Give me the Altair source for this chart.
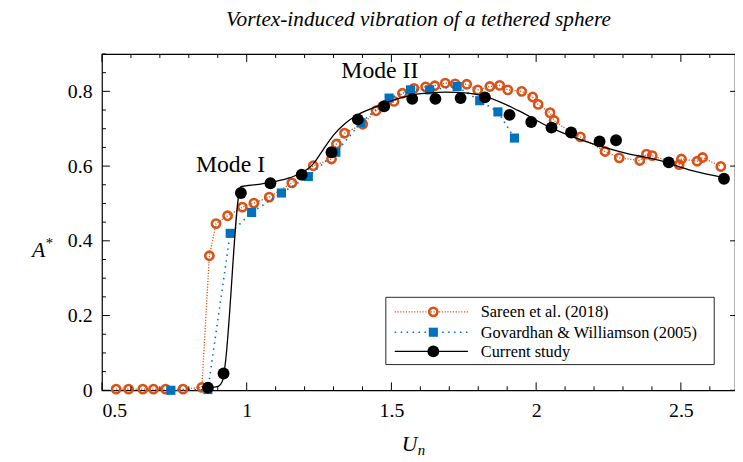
import altair as alt
import pandas as pd

# ---------------- data ----------------
sareen_x = [0.549, 0.592, 0.641, 0.678, 0.720, 0.780, 0.845, 0.871, 0.894, 0.934,
            0.985, 1.025, 1.078, 1.156, 1.230, 1.293, 1.310, 1.338, 1.401, 1.447,
            1.470, 1.509, 1.538, 1.578, 1.618, 1.650, 1.686, 1.720, 1.760, 1.798,
            1.840, 1.874, 1.902, 1.950, 1.988, 2.007, 2.048, 2.062, 2.119, 2.153,
            2.238, 2.287, 2.358, 2.381, 2.401, 2.494, 2.502, 2.556, 2.575, 2.638]
sareen_y = [0.003, 0.003, 0.003, 0.003, 0.003, 0.003, 0.008, 0.360, 0.446, 0.467,
            0.490, 0.501, 0.517, 0.555, 0.601, 0.619, 0.659, 0.688, 0.712, 0.748,
            0.760, 0.773, 0.795, 0.808, 0.812, 0.815, 0.822, 0.820, 0.819, 0.804,
            0.813, 0.816, 0.804, 0.800, 0.785, 0.765, 0.743, 0.722, 0.690, 0.678,
            0.639, 0.622, 0.615, 0.632, 0.628, 0.604, 0.619, 0.613, 0.623, 0.599]

gw_x = [0.738, 0.866, 0.943, 1.017, 1.120, 1.213, 1.308, 1.395, 1.492, 1.566,
        1.632, 1.727, 1.805, 1.868, 1.925]
gw_y = [0.000, 0.002, 0.420, 0.476, 0.528, 0.572, 0.637, 0.716, 0.782, 0.804,
        0.804, 0.813, 0.775, 0.745, 0.675]

cur_x = [0.866, 0.920, 0.980, 1.082, 1.190, 1.293, 1.384, 1.475, 1.572, 1.652,
         1.739, 1.823, 1.908, 1.983, 2.053, 2.121, 2.219, 2.276, 2.458, 2.649]
cur_y = [0.007, 0.045, 0.528, 0.554, 0.577, 0.637, 0.725, 0.760, 0.780, 0.780,
         0.782, 0.784, 0.737, 0.718, 0.703, 0.690, 0.666, 0.669, 0.610, 0.566]

fit_x = [0.866, 0.895, 0.910, 0.918, 0.925, 0.980, 1.040, 1.100, 1.150, 1.190,
         1.230, 1.265, 1.300, 1.340, 1.385, 1.447, 1.526, 1.594, 1.686, 1.766,
         1.834, 1.937, 2.039, 2.163, 2.312, 2.426, 2.539, 2.650]
fit_y = [0.007, 0.009, 0.016, 0.030, 0.065, 0.545, 0.551, 0.559, 0.569, 0.582,
         0.606, 0.645, 0.683, 0.714, 0.738, 0.759, 0.781, 0.793, 0.798, 0.795,
         0.784, 0.749, 0.707, 0.668, 0.634, 0.615, 0.588, 0.569]

x_labels = [0.5, 1.0, 1.5, 2.0, 2.5]
y_labels = [0.0, 0.2, 0.4, 0.6, 0.8]
x_ticks = [round(0.5 + 0.1 * i, 2) for i in range(22)]
y_ticks = [round(0.05 * i, 2) for i in range(19)]

mode_text = ["Mode I", "Mode II"]
mode_x = [0.944, 1.460]
mode_y = [0.604, 0.853]

legend_labels = ["Sareen et al. (2018)", "Govardhan & Williamson (2005)", "Current study"]
TITLE = "Vortex-induced vibration of a tethered sphere"

# ---------------- styling ----------------
ORANGE = "#D95319"
BLUE = "#0072BD"
BLACK = "#000000"
SERIF = "Liberation Serif, Times New Roman, serif"
W, H = 640, 340

xs = alt.Scale(domain=[0.5, 2.687], nice=False, zero=False)
ys = alt.Scale(domain=[0.0, 0.9], nice=False, zero=False)

x_axis = alt.Axis(values=x_labels, format="~g", title=None, ticks=False, tickSize=0,
                  domain=False, grid=False, labelPadding=11, labelFont=SERIF,
                  labelFontSize=20, labelColor="black")
y_axis = alt.Axis(values=y_labels, format="~g", title=None, ticks=False, tickSize=0,
                  domain=False, grid=False, labelPadding=10, labelFont=SERIF,
                  labelFontSize=20, labelColor="black")


def X(field):
    return alt.X(field, type="quantitative", scale=xs, axis=x_axis)


def Y(field):
    return alt.Y(field, type="quantitative", scale=ys, axis=y_axis)


sareen = pd.DataFrame({"x": sareen_x, "y": sareen_y, "o": range(len(sareen_x))})
gw = pd.DataFrame({"x": gw_x, "y": gw_y, "o": range(len(gw_x))})
cur = pd.DataFrame({"x": cur_x, "y": cur_y})
fit = pd.DataFrame({"x": fit_x, "y": fit_y, "o": range(len(fit_x))})

layers = []

# Sareen
layers.append(alt.Chart(sareen).mark_line(color=ORANGE, strokeWidth=1.3, strokeDash=[1.2, 1.6])
              .encode(x=X("x"), y=Y("y"), order="o:Q"))
layers.append(alt.Chart(sareen).mark_point(shape="circle", filled=False, color=ORANGE,
                                           size=70, strokeWidth=2.6, opacity=1)
              .encode(x=X("x"), y=Y("y")))
# Govardhan & Williamson
layers.append(alt.Chart(gw).mark_line(color=BLUE, strokeWidth=1.6, strokeDash=[1.5, 4.5])
              .encode(x=X("x"), y=Y("y"), order="o:Q"))
layers.append(alt.Chart(gw).mark_point(shape="square", filled=True, color=BLUE,
                                       size=85, opacity=1)
              .encode(x=X("x"), y=Y("y")))
# Current study
layers.append(alt.Chart(fit).mark_line(color=BLACK, strokeWidth=1.3, interpolate="monotone")
              .encode(x=X("x"), y=Y("y"), order="o:Q"))
layers.append(alt.Chart(cur).mark_point(shape="circle", filled=True, color=BLACK,
                                        size=144, opacity=1)
              .encode(x=X("x"), y=Y("y")))

# Mode labels
modes = pd.DataFrame({"x": mode_x, "y": mode_y, "t": mode_text})
layers.append(alt.Chart(modes).mark_text(font=SERIF, fontSize=24, color="black",
                                         align="center", baseline="middle")
              .encode(x=X("x"), y=Y("y"), text="t:N"))

# inward ticks (frame)
xt = pd.DataFrame({"v": x_ticks})
xt["major"] = [abs(v * 2 - round(v * 2)) < 1e-6 for v in x_ticks]
yt = pd.DataFrame({"v": y_ticks})
yt["major"] = [abs(v * 5 - round(v * 5)) < 1e-6 for v in y_ticks]

for is_major, ln in [(True, 8), (False, 4)]:
    dx = xt[xt["major"] == is_major]
    dy = yt[yt["major"] == is_major]
    layers.append(alt.Chart(dx).mark_rule(color="black", strokeWidth=1)
                  .encode(x=X("v"), y=alt.value(H), y2=alt.value(H - ln)))
    layers.append(alt.Chart(dx).mark_rule(color="black", strokeWidth=1)
                  .encode(x=X("v"), y=alt.value(0), y2=alt.value(ln)))
    layers.append(alt.Chart(dy).mark_rule(color="black", strokeWidth=1)
                  .encode(y=Y("v"), x=alt.value(0), x2=alt.value(ln)))
    if is_major:
        layers.append(alt.Chart(dy).mark_rule(color="black", strokeWidth=1)
                      .encode(y=Y("v"), x=alt.value(W), x2=alt.value(W - 5)))

# Title and axis titles
one = pd.DataFrame({"a": [0]})
layers.append(alt.Chart(one).mark_text(font=SERIF, fontStyle="italic", fontSize=21.5,
                                       color="black", align="center", baseline="middle")
              .encode(x=alt.value(W / 2), y=alt.value(-34), text=alt.value(TITLE)))
layers.append(alt.Chart(one).mark_text(font=SERIF, fontStyle="italic", fontSize=22,
                                       color="black", align="center", baseline="middle")
              .encode(x=alt.value(-64), y=alt.value(198), text=alt.value("A")))
layers.append(alt.Chart(one).mark_text(font=SERIF, fontSize=15, color="black",
                                       align="center", baseline="middle")
              .encode(x=alt.value(-53), y=alt.value(191), text=alt.value("*")))
layers.append(alt.Chart(one).mark_text(font=SERIF, fontStyle="italic", fontSize=22,
                                       color="black", align="center", baseline="middle")
              .encode(x=alt.value(311), y=alt.value(394), text=alt.value("U")))
layers.append(alt.Chart(one).mark_text(font=SERIF, fontStyle="italic", fontSize=15,
                                       color="black", align="center", baseline="middle")
              .encode(x=alt.value(323), y=alt.value(400), text=alt.value("n")))

# Legend (manual)
LX0, LX1, LY0, LY1 = 287, 619, 246, 314
rows = [260.7, 281.3, 300.7]
layers.append(alt.Chart(one).mark_rect(fill="white", stroke="#262626", strokeWidth=1)
              .encode(x=alt.value(LX0), x2=alt.value(LX1), y=alt.value(LY0), y2=alt.value(LY1)))
styles = [
    dict(line=dict(color=ORANGE, strokeWidth=1.3, strokeDash=[1.2, 1.6]),
         pt=dict(shape="circle", filled=False, color=ORANGE, size=70, strokeWidth=2.6)),
    dict(line=dict(color=BLUE, strokeWidth=1.6, strokeDash=[1.5, 4.5]),
         pt=dict(shape="square", filled=True, color=BLUE, size=85)),
    dict(line=dict(color=BLACK, strokeWidth=1.3),
         pt=dict(shape="circle", filled=True, color=BLACK, size=144)),
]
for lab, ry, st in zip(legend_labels, rows, styles):
    layers.append(alt.Chart(one).mark_rule(**st["line"])
                  .encode(x=alt.value(296), x2=alt.value(370), y=alt.value(ry)))
    layers.append(alt.Chart(one).mark_point(opacity=1, **st["pt"])
                  .encode(x=alt.value(335), y=alt.value(ry)))
    layers.append(alt.Chart(one).mark_text(font=SERIF, fontSize=16.5, color="black",
                                           align="left", baseline="middle")
                  .encode(x=alt.value(383), y=alt.value(ry + 0.5), text=alt.value(lab)))

chart = (alt.layer(*layers)
         .properties(width=W, height=H,
                     autosize=alt.AutoSizeParams(type="none"),
                     padding={"left": 95, "top": 44, "right": 0, "bottom": 70},
                     background="white")
         .configure_view(stroke="black", strokeWidth=1.2))

chart.save("out.html", embed_options={"renderer": "svg", "actions": False})
